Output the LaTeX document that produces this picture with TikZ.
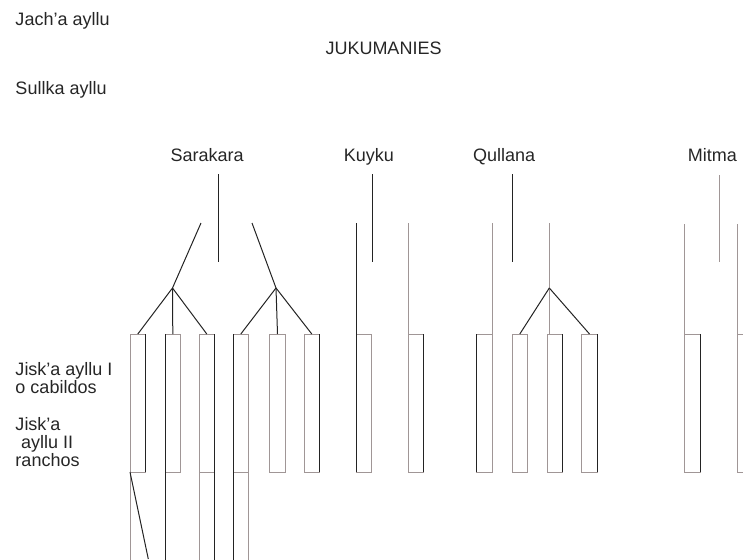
\documentclass[tikz,border=0pt]{standalone}
\usepackage{fontspec}
\setmainfont{Liberation Sans}
\definecolor{lg}{RGB}{160,150,150}
\definecolor{dk}{RGB}{35,35,35}
\begin{document}
\begin{tikzpicture}[x=1pt,y=-1pt,line width=1pt,
  lbl/.style={anchor=base west,inner sep=0pt,font=\fontsize{18}{18}\selectfont,text=black!85},
  bar/.style={draw=lg,minimum width=15.6pt,minimum height=138pt,inner sep=0pt,outer sep=0pt,anchor=north west},
  dl/.style={draw=dk},
  gl/.style={draw=lg}]
\clip (0,0) rectangle (743,559);
% texts
\node[lbl] (t1) at (15,26) {Jach’a ayllu};
\node[lbl] (t2) at (325,54.3) {JUKUMANIES};
\node[lbl] (t3) at (15,94.3) {Sullka ayllu};
\node[lbl] (sar) at (170,161.7) {Sarakara};
\node[lbl] (kuy) at (343.3,161.7) {Kuyku};
\node[lbl] (qul) at (472.7,161.7) {Qullana};
\node[lbl] (mit) at (687.3,161.7) {Mitma};
\node[lbl] (j1) at (15,375) {Jisk’a ayllu I};
\node[lbl] (j2) at (15,393) {o cabildos};
\node[lbl] (j3) at (15,430) {Jisk’a};
\node[lbl] (j4) at (20.7,448.3) {ayllu II};
\node[lbl] (j5) at (15,466) {ranchos};
% bars
\node[bar] (r1) at (130,334) {};
\node[bar] (r2) at (165,334) {};
\node[bar] (r3) at (199,334) {};
\node[bar] (r4) at (233,334) {};
\node[bar] (r5) at (269.7,334) {};
\node[bar] (r6) at (304,334) {};
\node[bar] (r7) at (356,334) {};
\node[bar] (r8) at (408,334) {};
\node[bar] (r9) at (476.7,334) {};
\node[bar] (r10) at (512,334) {};
\node[bar] (r11) at (547,334) {};
\node[bar] (r12) at (581.7,334) {};
\node[bar] (r13) at (684.7,334) {};
\node[bar] (r14) at (737.3,334) {};
\node[bar] (r3b) at (199,472) {};
\node[bar] (r4b) at (233,472) {};
% dark sides
\draw[dl] (r1.north east) -- (r1.south east);
\draw[dl] (r2.north west) -- (r2.south west);
\draw[dl] (r3.north east) -- (r3.south east);
\draw[dl] (r4.north west) -- (r4.south west);
\draw[dl] (r6.north east) -- (r6.south east);
\draw[dl] (r7.north west) -- (r7.south west);
\draw[dl] (r8.north east) -- (r8.south east);
\draw[dl] (r9.north west) -- (r9.south west);
\draw[dl] (r11.north east) -- (r11.south east);
\draw[dl] (r12.north east) -- (r12.south east);
\draw[dl] (r13.north east) -- (r13.south east);
\draw[dl] (r3b.north east) -- (r3b.south east);
\draw[dl] (r4b.north west) -- (r4b.south west);
% Sarakara
\coordinate (sv1) at (218,174);
\coordinate (sv2) at (218,262);
\draw[dl] (sv1) -- (sv2);
\coordinate (sa) at (201,223);
\coordinate (sb1) at (172.5,288);
\draw[dl] (sa) -- (sb1);
\draw[dl] (sb1) -- (r1.north);
\draw[dl] (sb1) -- (r2.north);
\draw[dl] (sb1) -- (r3.north);
\coordinate (sc) at (252,223);
\coordinate (sb2) at (276,288);
\draw[dl] (sc) -- (sb2);
\draw[dl] (sb2) -- (r4.north);
\draw[dl] (sb2) -- (r5.north);
\draw[dl] (sb2) -- (r6.north);
% Kuyku
\coordinate (kv1) at (372.7,174);
\coordinate (kv2) at (372.7,262);
\draw[dl] (kv1) -- (kv2);
\coordinate (k1) at (356,223);
\coordinate (k2) at (408,223);
\draw[dl] (k1) -- (r7.north west);
\draw[gl] (k2) -- (r8.north west);
% Qullana
\coordinate (qv1) at (512.7,174);
\coordinate (qv2) at (512.7,262);
\draw[dl] (qv1) -- (qv2);
\coordinate (q1) at (492.3,223);
\draw[gl] (q1) -- (r9.north east);
\coordinate (q2) at (549.3,223);
\coordinate (qb) at (549.3,288);
\draw[gl] (q2) -- (qb);
\draw[dl] (qb) -- (r10.north);
\draw[gl] (qb) -- (qb |- r11.north);
\draw[dl] (qb) -- (r12.north);
% Mitma
\coordinate (mv1) at (719.3,175);
\coordinate (mv2) at (719.3,262);
\draw[gl] (mv1) -- (mv2);
\coordinate (m1) at (684.7,224);
\coordinate (m2) at (737.3,224);
\draw[gl] (m1) -- (r13.north west);
\draw[gl] (m2) -- (r14.north west);
% lower part
\coordinate (b1) at (130,565);
\coordinate (b2) at (148.3,559);
\coordinate (b3) at (165,565);
\draw[gl] (r1.south west) -- (b1);
\draw[dl] (r1.south west) -- (b2);
\draw[dl] (r2.south west) -- (b3);
\end{tikzpicture}
\end{document}
